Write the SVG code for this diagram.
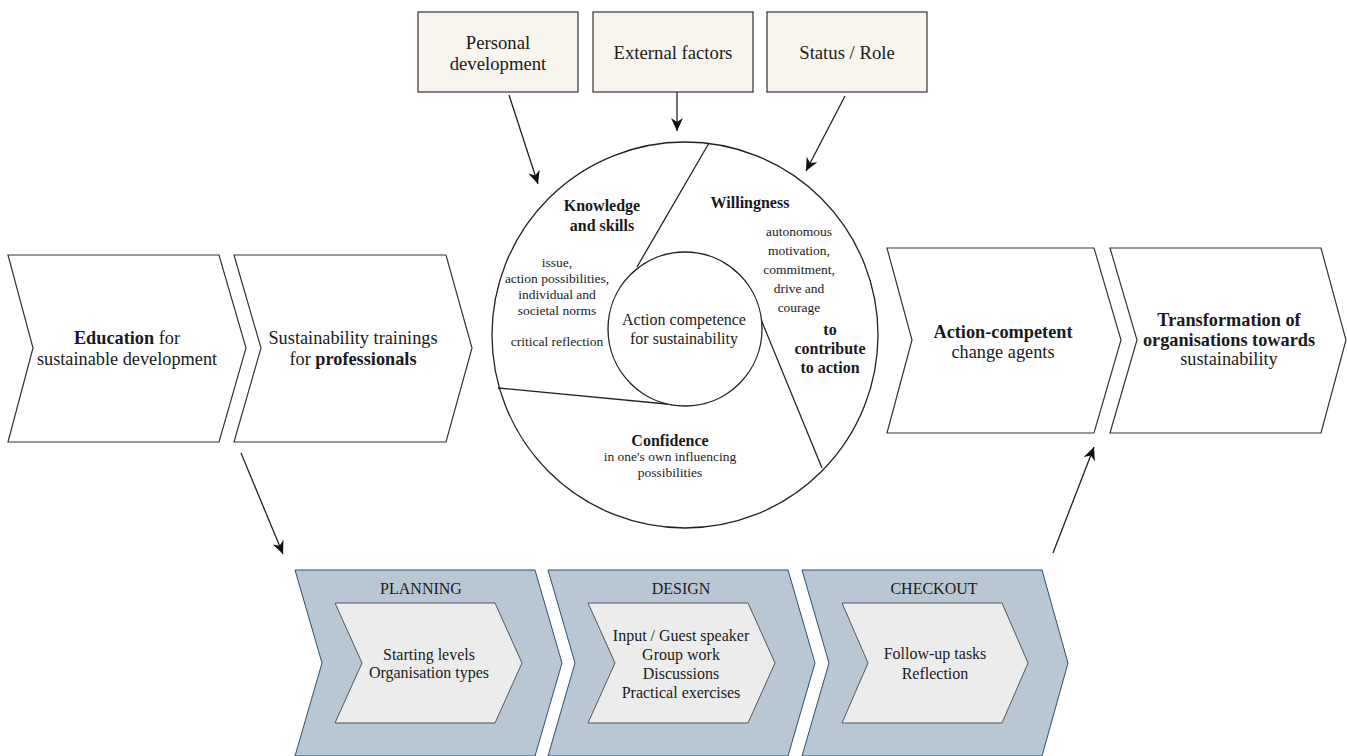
<svg xmlns="http://www.w3.org/2000/svg" width="1347" height="756" viewBox="0 0 1347 756">
  <style>
    text { font-family: "Liberation Serif", Tinos, "Times New Roman", serif; fill: #1a1a1a; text-anchor: middle; }
    .b { font-weight: bold; }
    .t18 { font-size: 18.3px; }
    .t16 { font-size: 16px; }
    .t13 { font-size: 13.5px; }
    .factor { fill: #f7f5ee; stroke: #333; stroke-width: 1.2; }
    .chev { fill: #ffffff; stroke: #333; stroke-width: 1.2; }
    .phase { fill: #b8c7d3; stroke: #2f4e6b; stroke-width: 1; }
    .step { fill: #ececec; stroke: #555; stroke-width: 1; }
    .ring { fill: #ffffff; stroke: #222; stroke-width: 1.3; }
    .div { stroke: #222; stroke-width: 1.3; fill: none; }
    .conn { stroke: #222; stroke-width: 1.3; fill: none; marker-end: url(#arrow); }
  </style>
  <defs>
    <marker id="arrow" markerUnits="userSpaceOnUse" markerWidth="14" markerHeight="12" refX="13" refY="6" orient="auto">
      <path d="M0,0 L13,6 L0,12 L4,6 Z" fill="#111"/>
    </marker>
  </defs>

  <!-- influencing factors -->
  <g id="personal-development">
    <rect class="factor" x="418" y="12" width="160" height="80"/>
    <text class="t18" x="498" y="49" style="font-size:18.7px">Personal</text>
    <text class="t18" x="498" y="70" style="font-size:18.7px">development</text>
  </g>
  <g id="external-factors">
    <rect class="factor" x="593" y="12" width="160" height="80"/>
    <text class="t18" x="673" y="59" style="font-size:18.7px">External factors</text>
  </g>
  <g id="status-role">
    <rect class="factor" x="767" y="12" width="160" height="80"/>
    <text class="t18" x="847" y="59" style="font-size:18.7px">Status / Role</text>
  </g>

  <!-- upper process chain -->
  <g id="education">
    <polygon class="chev" points="8,255 219,255 246,348 219,442 8,442 33,348"/>
    <text class="t18" x="127" y="344"><tspan class="b">Education</tspan> for</text>
    <text class="t18" x="127" y="365">sustainable development</text>
  </g>
  <g id="trainings">
    <polygon class="chev" points="234,255 446,255 472,348 446,442 234,442 261,348"/>
    <text class="t18" x="353" y="344">Sustainability trainings</text>
    <text class="t18" x="353" y="365">for <tspan class="b">professionals</tspan></text>
  </g>
  <g id="change-agents">
    <polygon class="chev" points="887,248 1094,248 1121,340 1094,433 887,433 912,340"/>
    <text class="t18 b" x="1003" y="338">Action-competent</text>
    <text class="t18" x="1003" y="358">change agents</text>
  </g>
  <g id="transformation">
    <polygon class="chev" points="1110,248 1321,248 1346,340 1321,433 1110,433 1137,340"/>
    <text class="t18 b" x="1229" y="326">Transformation of</text>
    <text class="t18 b" x="1229" y="346">organisations towards</text>
    <text class="t18" x="1229" y="365">sustainability</text>
  </g>

  <!-- action competence model -->
  <g id="competence-model">
    <circle class="ring" cx="685" cy="335" r="193"/>
    <line class="div" x1="709" y1="143" x2="637" y2="267"/>
    <line class="div" x1="498" y1="388" x2="677" y2="405"/>
    <line class="div" x1="760" y1="317" x2="822" y2="468"/>
    <circle class="ring" cx="685" cy="329" r="77"/>

    <text class="t16 b" x="602" y="211">Knowledge</text>
    <text class="t16 b" x="602" y="231">and skills</text>
    <text class="t13" x="557" y="267">issue,</text>
    <text class="t13" x="557" y="283">action possibilities,</text>
    <text class="t13" x="557" y="299">individual and</text>
    <text class="t13" x="557" y="315">societal norms</text>
    <text class="t13" x="557" y="346">critical reflection</text>

    <text class="t16 b" x="750" y="208">Willingness</text>
    <text class="t13" x="799" y="236">autonomous</text>
    <text class="t13" x="799" y="255">motivation,</text>
    <text class="t13" x="799" y="274">commitment,</text>
    <text class="t13" x="799" y="293">drive and</text>
    <text class="t13" x="799" y="312">courage</text>
    <text class="t16 b" x="830" y="335">to</text>
    <text class="t16 b" x="830" y="354">contribute</text>
    <text class="t16 b" x="830" y="373">to action</text>

    <text class="t16 b" x="670" y="446">Confidence</text>
    <text class="t13" x="670" y="461">in one's own influencing</text>
    <text class="t13" x="670" y="477">possibilities</text>

    <text class="t16" x="684" y="325">Action competence</text>
    <text class="t16" x="684" y="344">for sustainability</text>
  </g>

  <!-- training phases -->
  <g id="planning">
    <polygon class="phase" points="295,570 535,570 562,663 535,756 295,756 322,663"/>
    <polygon class="step" points="335,603 495,603 522,663 495,723 335,723 362,663"/>
    <text class="t16" x="421" y="594">PLANNING</text>
    <text class="t16" x="429" y="660">Starting levels</text>
    <text class="t16" x="429" y="678">Organisation types</text>
  </g>
  <g id="design">
    <polygon class="phase" points="548,570 788,570 815,663 788,756 548,756 575,663"/>
    <polygon class="step" points="588,603 748,603 775,663 748,723 588,723 615,663"/>
    <text class="t16" x="681" y="594">DESIGN</text>
    <text class="t16" x="681" y="641">Input / Guest speaker</text>
    <text class="t16" x="681" y="660">Group work</text>
    <text class="t16" x="681" y="679">Discussions</text>
    <text class="t16" x="681" y="698">Practical exercises</text>
  </g>
  <g id="checkout">
    <polygon class="phase" points="802,570 1042,570 1068,663 1042,756 802,756 829,663"/>
    <polygon class="step" points="842,603 1002,603 1028,663 1002,723 842,723 868,663"/>
    <text class="t16" x="934" y="594">CHECKOUT</text>
    <text class="t16" x="935" y="659">Follow-up tasks</text>
    <text class="t16" x="935" y="679">Reflection</text>
  </g>

  <!-- connectors -->
  <g id="connectors">
    <line class="conn" x1="509" y1="95" x2="538" y2="184"/>
    <line class="conn" x1="677" y1="92" x2="677" y2="131"/>
    <line class="conn" x1="845" y1="96" x2="806" y2="171"/>
    <line class="conn" x1="241" y1="453" x2="283" y2="554"/>
    <line class="conn" x1="1053" y1="553" x2="1094" y2="447"/>
  </g>
</svg>
